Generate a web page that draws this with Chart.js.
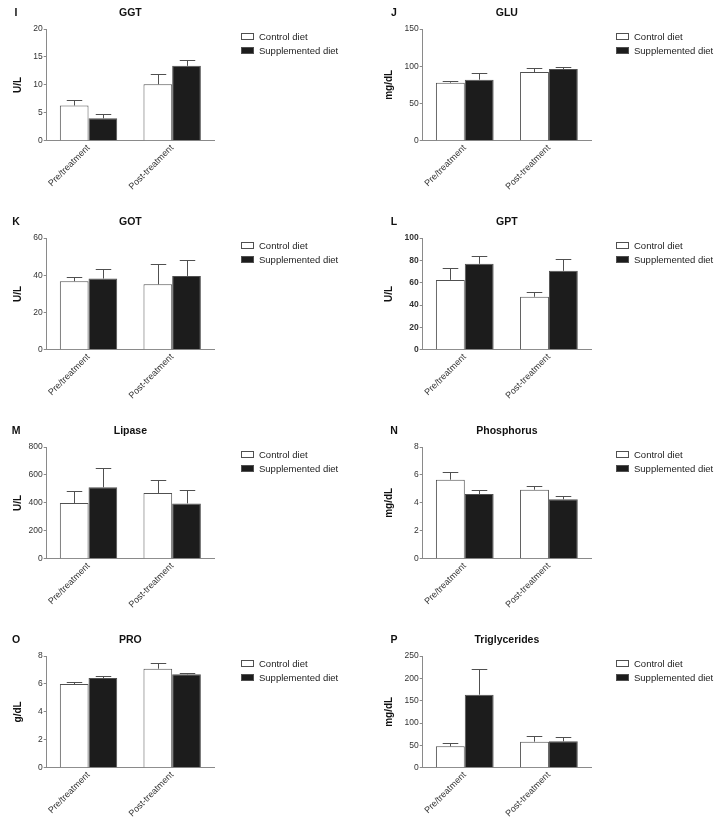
<!DOCTYPE html>
<html>
<head>
<meta charset="utf-8">
<script src="https://cdn.jsdelivr.net/npm/chart.js@4"></script>
<style>
  html, body { margin: 0; padding: 0; background: #fff; }
  body { width: 722px; height: 823px; position: relative; overflow: hidden; }
  canvas { position: absolute; }
</style>
</head>
<body>
<script>
// Categorias y series (comunes a todos los paneles)
const categories = ['Pre/treatment', 'Post-treatment'];
const seriesNames = ['Control diet', 'Supplemented diet'];

// Valores medios y error (solo barra superior)
const ggtControl = [6.3, 10.1];
const ggtControlErr = [0.9, 1.85];
const ggtSupp = [4.0, 13.4];
const ggtSuppErr = [0.85, 1.1];

const gluControl = [77.9, 92.2];
const gluControlErr = [1.8, 5.0];
const gluSupp = [81.9, 96.3];
const gluSuppErr = [8.5, 3.1];

const gotControl = [36.8, 35.1];
const gotControlErr = [2.3, 10.7];
const gotSupp = [38.2, 39.6];
const gotSuppErr = [5.0, 8.5];

const gptControl = [62.5, 47.4];
const gptControlErr = [10.5, 4.0];
const gptSupp = [76.9, 70.6];
const gptSuppErr = [7.2, 10.5];

const lipControl = [399, 470];
const lipControlErr = [83, 96];
const lipSupp = [511, 396];
const lipSuppErr = [136, 96];

const phoControl = [5.66, 4.94];
const phoControlErr = [0.57, 0.27];
const phoSupp = [4.63, 4.25];
const phoSuppErr = [0.29, 0.22];

const proControl = [5.99, 7.09];
const proControlErr = [0.17, 0.43];
const proSupp = [6.42, 6.69];
const proSuppErr = [0.15, 0.12];

const tgControl = [47.8, 58.2];
const tgControlErr = [7.4, 11.9];
const tgSupp = [163.4, 59.0];
const tgSuppErr = [56.6, 9.7];

// Escalas del eje Y (maximo y paso)
const yMax = [20, 150, 60, 100, 800, 8, 8, 250];
const yStep = [5, 50, 20, 20, 200, 2, 2, 50];

const FONT = "'Liberation Sans', Arial, Helvetica, sans-serif";
const AXIS_COLOR = '#8a8a8a';
const BAR_BORDER = '#505050';

const paneles = [
  { letra: 'I', titulo: 'GGT', unidad: 'U/L', ctrl: ggtControl, ctrlErr: ggtControlErr, sup: ggtSupp, supErr: ggtSuppErr },
  { letra: 'J', titulo: 'GLU', unidad: 'mg/dL', ctrl: gluControl, ctrlErr: gluControlErr, sup: gluSupp, supErr: gluSuppErr },
  { letra: 'K', titulo: 'GOT', unidad: 'U/L', ctrl: gotControl, ctrlErr: gotControlErr, sup: gotSupp, supErr: gotSuppErr },
  { letra: 'L', titulo: 'GPT', unidad: 'U/L', ctrl: gptControl, ctrlErr: gptControlErr, sup: gptSupp, supErr: gptSuppErr, negrita: true },
  { letra: 'M', titulo: 'Lipase', unidad: 'U/L', ctrl: lipControl, ctrlErr: lipControlErr, sup: lipSupp, supErr: lipSuppErr },
  { letra: 'N', titulo: 'Phosphorus', unidad: 'mg/dL', ctrl: phoControl, ctrlErr: phoControlErr, sup: phoSupp, supErr: phoSuppErr },
  { letra: 'O', titulo: 'PRO', unidad: 'g/dL', ctrl: proControl, ctrlErr: proControlErr, sup: proSupp, supErr: proSuppErr },
  { letra: 'P', titulo: 'Triglycerides', unidad: 'mg/dL', ctrl: tgControl, ctrlErr: tgControlErr, sup: tgSupp, supErr: tgSuppErr }
];

// Barras de error (solo hacia arriba, con tope)
const errorBars = {
  id: 'errorBars',
  afterDatasetsDraw(chart) {
    const ctx = chart.ctx;
    const y = chart.scales.y;
    ctx.save();
    ctx.strokeStyle = BAR_BORDER;
    ctx.lineWidth = 1;
    chart.data.datasets.forEach((ds, i) => {
      chart.getDatasetMeta(i).data.forEach((bar, j) => {
        const top = y.getPixelForValue(ds.data[j] + ds.errores[j]);
        const x = Math.round(bar.x) + 0.5;
        const half = bar.width * 0.27;
        ctx.beginPath();
        ctx.moveTo(x, bar.y);
        ctx.lineTo(x, Math.round(top) + 0.5);
        ctx.moveTo(x - half, Math.round(top) + 0.5);
        ctx.lineTo(x + half, Math.round(top) + 0.5);
        ctx.stroke();
      });
    });
    ctx.restore();
  }
};

// Letra, titulo, etiqueta del eje y leyenda
const decoracion = {
  id: 'decoracion',
  afterDraw(chart) {
    const o = chart.options.plugins.decoracion;
    const ctx = chart.ctx;
    const area = chart.chartArea;
    ctx.save();
    ctx.fillStyle = '#111';
    ctx.textBaseline = 'middle';
    ctx.textAlign = 'center';
    ctx.font = 'bold 10.5px ' + FONT;
    ctx.fillText(o.letra, o.letraX, 13);
    ctx.fillText(o.titulo, (area.left + area.right) / 2, 13);

    // etiqueta vertical
    ctx.save();
    ctx.translate(o.unidadX, (area.top + area.bottom) / 2);
    ctx.rotate(-Math.PI / 2);
    ctx.font = 'bold 10px ' + FONT;
    ctx.fillText(o.unidad, 0, 0);
    ctx.restore();

    // leyenda
    ctx.textAlign = 'left';
    ctx.font = '9.5px ' + FONT;
    chart.data.datasets.forEach((ds, i) => {
      const cy = 36.5 + i * 14;
      ctx.fillStyle = ds.backgroundColor;
      ctx.fillRect(o.leyendaX, cy - 3.5, 13, 7);
      ctx.strokeStyle = BAR_BORDER;
      ctx.lineWidth = 1;
      ctx.strokeRect(o.leyendaX + 0.5, cy - 3.5 + 0.5, 12, 6);
      ctx.fillStyle = '#222';
      ctx.fillText(ds.label, o.leyendaX + 18, cy + 0.5);
    });
    ctx.restore();
  }
};

paneles.forEach((p, k) => {
  const col = k % 2;
  const fila = Math.floor(k / 2);
  const canvas = document.createElement('canvas');
  canvas.width = 361;
  canvas.height = 209;
  canvas.style.left = (col * 361) + 'px';
  canvas.style.top = (fila * 209) + 'px';
  document.body.appendChild(canvas);

  const ejeIzq = col === 0 ? 46.7 : 61.7;
  const ejeDer = col === 0 ? 214 : 230;

  new Chart(canvas.getContext('2d'), {
    type: 'bar',
    data: {
      labels: categories,
      datasets: [
        { label: seriesNames[0], data: p.ctrl, errores: p.ctrlErr, backgroundColor: '#ffffff', borderColor: BAR_BORDER, borderWidth: 1 },
        { label: seriesNames[1], data: p.sup, errores: p.supErr, backgroundColor: '#1c1c1c', borderColor: BAR_BORDER, borderWidth: 1 }
      ]
    },
    plugins: [errorBars, decoracion],
    options: {
      responsive: false,
      animation: false,
      devicePixelRatio: 1,
      layout: { padding: { left: 0, top: 29, right: 361 - ejeDer, bottom: 0 } },
      datasets: { bar: { categoryPercentage: 0.686, barPercentage: 1 } },
      plugins: {
        legend: { display: false },
        title: { display: false },
        tooltip: { enabled: false },
        decoracion: {
          letra: p.letra,
          titulo: p.titulo,
          unidad: p.unidad,
          letraX: col === 0 ? 16 : 33,
          unidadX: col === 0 ? 18 : 28,
          leyendaX: col === 0 ? 241 : 255
        }
      },
      scales: {
        x: {
          grid: { display: true, drawOnChartArea: false, drawTicks: false },
          border: { display: true, color: AXIS_COLOR, width: 1 },
          ticks: {
            minRotation: 45, maxRotation: 45, padding: 2,
            color: '#333', font: { family: FONT, size: 9 }
          },
          afterFit(s) { s.height = 209 - 140.7; }
        },
        y: {
          min: 0,
          max: yMax[k],
          grid: { display: true, drawOnChartArea: false, drawTicks: true, tickLength: 3, tickColor: AXIS_COLOR },
          border: { display: true, color: AXIS_COLOR, width: 1 },
          ticks: {
            stepSize: yStep[k], padding: 1,
            color: '#333', font: { family: FONT, size: 8.5, weight: p.negrita ? 'bold' : 'normal' }
          },
          afterFit(s) { s.width = ejeIzq; }
        }
      }
    }
  });
});
</script>
</body>
</html>
